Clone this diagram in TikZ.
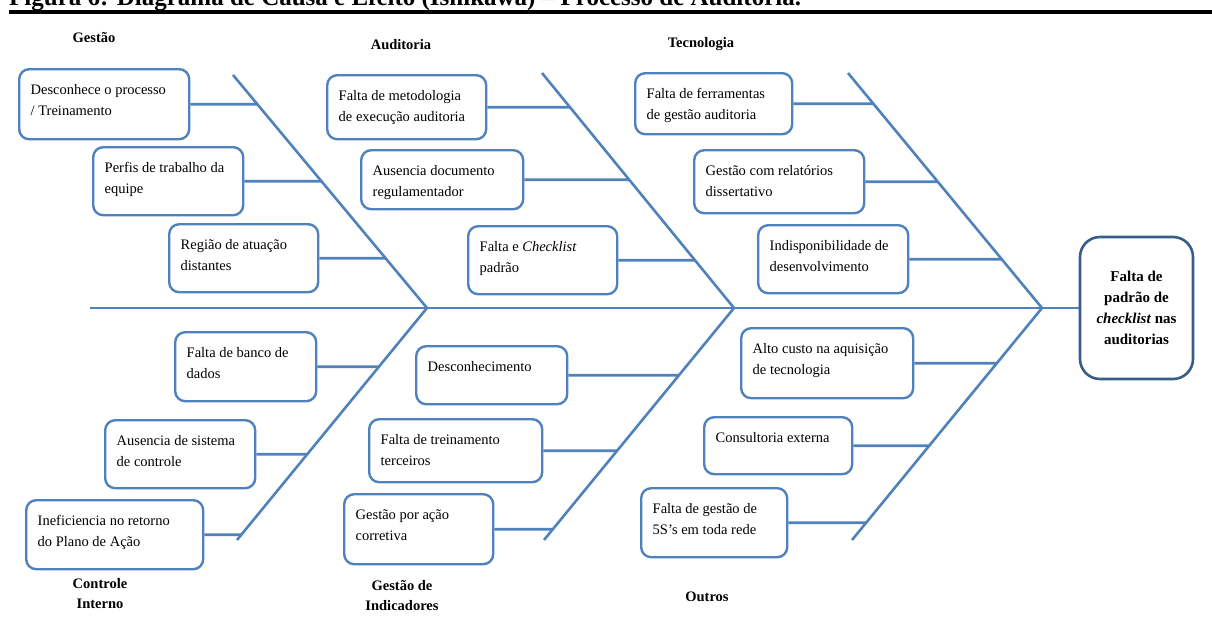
\documentclass[tikz,border=0pt]{standalone}
\usepackage{fontspec}
\setmainfont{Liberation Serif}
\definecolor{espinha}{RGB}{79,129,189}
\definecolor{efeitoborda}{RGB}{56,93,138}
\newcommand{\causetxt}[3]{\parbox[t][\dimexpr#2pt-22pt\relax][t]{\dimexpr#1pt-23pt\relax}{\raggedright\strut#3}}

\begin{document}
\begin{tikzpicture}[x=1pt,y=-1pt,
	bone/.style={draw=espinha,line width=2.6pt},
	cause/.style={draw=espinha,line width=2.4pt,rounded corners=10pt,anchor=north west,inner xsep=11.5pt,inner ysep=11pt,font=\fontsize{14.5}{20.5}\selectfont},
	categoria/.style={font=\bfseries\fontsize{14.5}{20}\selectfont,align=center},
	efeito/.style={draw=efeitoborda,line width=2.6pt,rounded corners=20pt,minimum width=113pt,minimum height=142pt,align=center,inner sep=2pt,font=\bfseries\fontsize{15}{21}\selectfont}]
	\useasboundingbox (0,0) rectangle (1212,643);
	\clip (0,0) rectangle (1212,643);

	\node (titulo) [anchor=base west,inner sep=0pt,font=\bfseries\fontsize{25}{28}\selectfont] at (9,5) {Figura 6: Diagrama de Causa e Efeito (Ishikawa) – Processo de Auditoria.};
	\draw[line width=4pt] (9,12) -- (1212,12);

	\node (efeito) [efeito] at (1136.5,308) {Falta de\\padrão de\\\textit{checklist} nas\\auditorias};

	\coordinate (cauda) at (90,308);
	\coordinate (j1) at (427,308);
	\coordinate (j2) at (734,308);
	\coordinate (j3) at (1042,308);
	\coordinate (s1) at (233,75);
	\coordinate (s2) at (542,73);
	\coordinate (s3) at (848,73);
	\coordinate (i1) at (237,540);
	\coordinate (i2) at (544,540);
	\coordinate (i3) at (852,540);

	\node (desconhece) [cause] at (18,68) {\causetxt{170}{70}{Desconhece o processo\\/ Treinamento}};
	\node (perfis) [cause] at (92,146) {\causetxt{150}{68}{Perfis de trabalho da\\equipe}};
	\node (regiao) [cause] at (168,223) {\causetxt{149}{68}{Região de atuação\\distantes}};
	\node (metodologia) [cause] at (326,74) {\causetxt{159}{64}{Falta de metodologia\\de execução auditoria}};
	\node (ausdoc) [cause] at (360,149) {\causetxt{162}{59}{Ausencia documento\\regulamentador}};
	\node (faltachk) [cause] at (467,225) {\causetxt{149}{68}{Falta e \textit{Checklist}\\padrão}};
	\node (ferramentas) [cause] at (634,72) {\causetxt{157}{61}{Falta de ferramentas\\de gestão auditoria}};
	\node (relatorios) [cause] at (693,149) {\causetxt{170}{63}{Gestão com relatórios\\dissertativo}};
	\node (indisp) [cause] at (757,224) {\causetxt{150}{68}{Indisponibilidade de\\desenvolvimento}};

	\node (banco) [cause] at (174,331) {\causetxt{141}{69}{Falta de banco de\\dados}};
	\node (aussis) [cause] at (104,419) {\causetxt{150}{68}{Ausencia de sistema\\de controle}};
	\node (ineficiencia) [cause] at (25,499) {\causetxt{177}{69}{Ineficiencia no retorno\\do Plano de Ação}};
	\node (desconhecimento) [cause] at (415,345) {\causetxt{151}{58}{Desconhecimento}};
	\node (treinamento) [cause] at (368,418) {\causetxt{173}{63}{Falta de treinamento\\terceiros}};
	\node (acaocorretiva) [cause] at (343,493) {\causetxt{149}{70}{Gestão por ação\\corretiva}};
	\node (altocusto) [cause] at (740,327) {\causetxt{172}{70}{Alto custo na aquisição\\de tecnologia}};
	\node (consultoria) [cause] at (703,416) {\causetxt{148}{57}{Consultoria externa}};
	\node (cincoS) [cause] at (640,487) {\causetxt{146}{69}{Falta de gestão de\\5S's em toda rede}};

	\node (gestao) [categoria] at (94,38) {Gestão};
	\node (auditoria) [categoria] at (401,45) {Auditoria};
	\node (tecnologia) [categoria] at (701,44) {Tecnologia};
	\node (controle) [categoria] at (100,594) {Controle\\Interno};
	\node (indicadores) [categoria] at (402,596) {Gestão de\\Indicadores};
	\node (outros) [categoria] at (707,597) {Outros};

	\draw[bone] (cauda) -- (efeito.west);
	\foreach \n in {1,2,3}
		\draw[bone] (s\n) -- (j\n) -- (i\n);
	\foreach \c/\k in {desconhece/1,perfis/1,regiao/1,metodologia/2,ausdoc/2,faltachk/2,ferramentas/3,relatorios/3,indisp/3}
		\draw[bone] (\c.east) -- (intersection of \c.west--\c.east and s\k--j\k);
	\foreach \c/\k in {banco/1,aussis/1,ineficiencia/1,desconhecimento/2,treinamento/2,acaocorretiva/2,altocusto/3,consultoria/3,cincoS/3}
		\draw[bone] (\c.east) -- (intersection of \c.west--\c.east and j\k--i\k);
\end{tikzpicture}
\end{document}
